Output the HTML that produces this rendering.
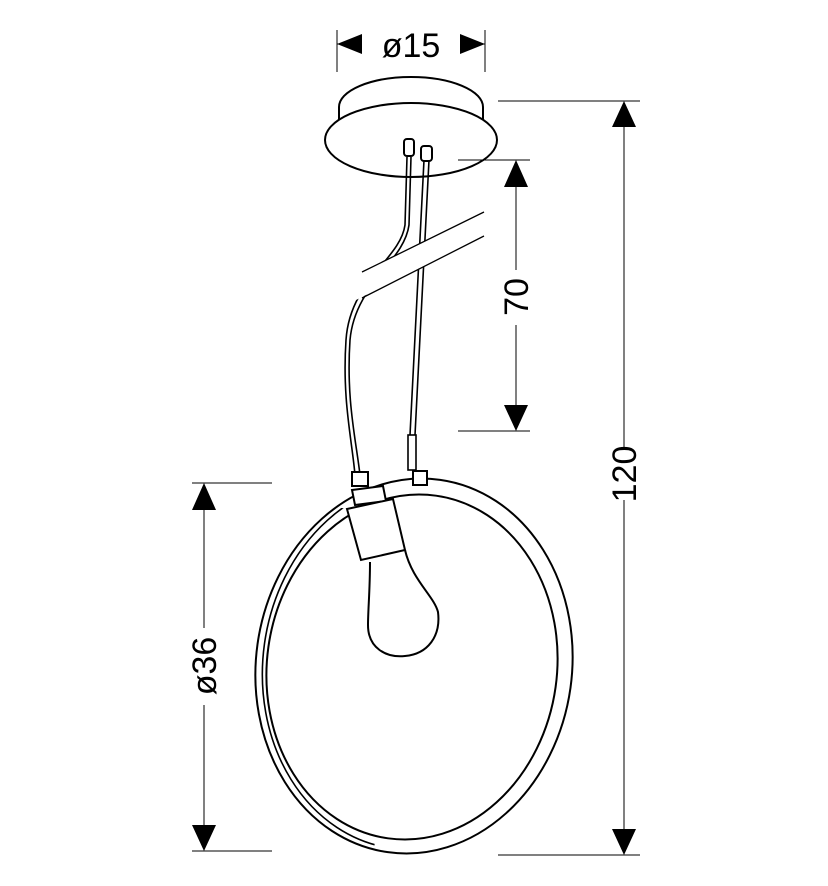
<html><body style="margin:0;background:#fff">
<svg width="828" height="886" viewBox="0 0 828 886" xmlns="http://www.w3.org/2000/svg" style="display:block">
<defs><clipPath id="lc"><rect x="0" y="520" width="400" height="400"/></clipPath></defs>
<g fill="none" stroke="#000" stroke-width="2">
<!-- canopy -->
<path d="M339,122 L339,107 A72,30 0 0 1 483,107 L483,122"/>
<ellipse cx="411" cy="140" rx="86" ry="37" fill="#fff"/>
<!-- wires -->
<path d="M407,157 L405,225 C400,260 350,280 346,340 C342,400 352,440 355,475" stroke-width="1.6"/>
<path d="M411,157 L409,225 C404,262 355,284 350,340 C346,400 356,440 360,475" stroke-width="1.6"/>
<path d="M424,160 L410,435 M429,160 L415,435" stroke-width="1.6"/>
<rect x="404" y="139" width="10" height="17" rx="3" fill="#fff"/>
<rect x="421" y="146" width="11" height="15" rx="3" fill="#fff"/>
<polygon points="340,283 500,204 500,228 340,308" fill="#fff" stroke="none"/>
<path d="M362,272 L484,212 M362,298 L484,236" stroke-width="1.3"/>
<rect x="408" y="435" width="8" height="35" stroke-width="1.6"/>
<rect x="352" y="472" width="16" height="14" fill="#fff"/>
<!-- ring -->
<ellipse cx="414" cy="666" rx="158" ry="188" transform="rotate(8 414 666)"/>
<ellipse cx="417" cy="665" rx="154" ry="185" transform="rotate(8 417 665)" clip-path="url(#lc)" stroke-width="1.6"/>
<ellipse cx="412" cy="667" rx="145" ry="173" transform="rotate(8 412 667)"/>
<rect x="413" y="471" width="14" height="14" fill="#fff"/>
<path d="M352,490 L383,486 L386,501 L355,505 Z" fill="#fff"/>
<!-- socket -->
<path d="M347,509 L393,499 L405,550 L361,560 Z" fill="#fff"/>
<path d="M370,562 C370,590 368,610 368,625 C368,648 386,658 405,656 C428,654 441,636 438,612 C434,596 412,580 405,550"/>
</g>
<g stroke="#000" stroke-width="1" fill="none">
<path d="M337,30 V72 M485,30 V72 M337,44 H355 M462,44 H485"/>
<path d="M498,101 H640 M498,855 H640 M624,127 V448 M624,500 V830"/>
<path d="M458,160 H530 M458,431 H530 M516,187 V270 M516,325 V405"/>
<path d="M192,483 H272 M192,851 H272 M204,510 V628 M204,705 V825"/>
</g>
<g fill="#000">
<path d="M337,44 L362,34 L362,54 Z M485,44 L460,34 L460,54 Z"/>
<path d="M624,101 L612,127 L636,127 Z M624,855 L612,829 L636,829 Z"/>
<path d="M516,160 L504,187 L528,187 Z M516,431 L504,405 L528,405 Z"/>
<path d="M204,483 L192,510 L216,510 Z M204,851 L192,825 L216,825 Z"/>
</g>
<g font-family="Liberation Sans, sans-serif" font-size="34" fill="#000" text-anchor="middle">
<text x="411" y="57">ø15</text>
<text transform="translate(636,474) rotate(-90)">120</text>
<text transform="translate(528,297) rotate(-90)">70</text>
<text transform="translate(216,666) rotate(-90)">ø36</text>
</g>
</svg>
</body></html>
